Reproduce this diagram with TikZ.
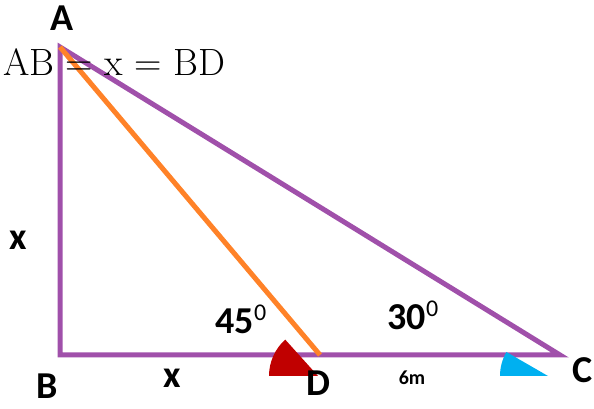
\documentclass[tikz,border=0pt]{standalone}
\usepackage{fontspec}
\newfontfamily\lblfont{Carlito}
\definecolor{sidecol}{RGB}{160,80,170}
\definecolor{diagcol}{RGB}{255,130,40}
\definecolor{redsec}{RGB}{192,0,0}
\definecolor{bluesec}{RGB}{0,176,240}
\newcommand{\degsup}{\raisebox{13pt}{\fontsize{24}{24}\selectfont\mdseries 0}}
\tikzset{
  side/.style={sidecol,line width=5pt},
  diag/.style={diagcol,line width=5pt},
  lbl/.style={inner sep=0pt,font=\lblfont\bfseries\fontsize{38}{40}\selectfont},
}

\begin{document}
\begin{tikzpicture}[x=1pt,y=1pt]
  \useasboundingbox (0,0) rectangle (594,409);
  \coordinate (A) at (60,362);
  \coordinate (B) at (60,54);
  \coordinate (D) at (320,54);
  \coordinate (C) at (560,54);
  \draw[side] (A) -- (B) -- (C) -- cycle;
  \draw[diag] (A) -- (D);
  % angle marks
  \fill[redsec] (318,33) -- ++(180:49) arc (180:132:49) -- cycle;
  \fill[bluesec] (548,33) -- ++(180:48) arc (180:150:48) -- cycle;
  % labels
  \node[lbl] (lblA) at (62,391) {A};
  \node[lbl] (lblB) at (47,23) {B};
  \node[lbl] (lblC) at (583,39) {C};
  \node[lbl] (lblD) at (318,26) {D};
  \node[lbl] (lblx) at (18,169) {x};
  \node[lbl] (lblxb) at (172,31) {x};
  \node[lbl,font=\lblfont\bfseries\fontsize{20}{22}\selectfont] (lbl6m) at (412,31) {6m};
  \node[lbl] (ang45) at (241,90) {45\degsup};
  \node[lbl] (ang30) at (413,94) {30\degsup};
  \node[anchor=base west,inner sep=0pt,font=\fontsize{38}{40}\selectfont] (eqn) at (3,333) {AB = x = BD};
\end{tikzpicture}
\end{document}
